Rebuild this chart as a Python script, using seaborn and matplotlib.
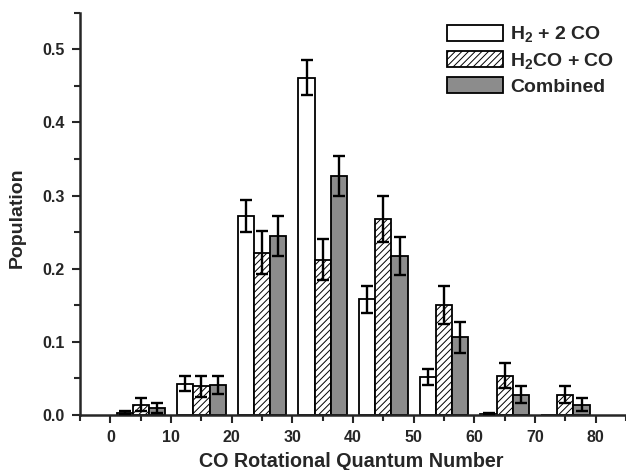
import numpy as np
import pandas as pd
import matplotlib
matplotlib.use("Agg")
import matplotlib.pyplot as plt
import matplotlib.patches as mpatches
from matplotlib.ticker import MultipleLocator
import seaborn as sns

# ---- data ----
j_centers = [5, 15, 25, 35, 45, 55, 65, 75]
series_names = ["H$_2$ + 2 CO", "H$_2$CO + CO", "Combined"]
h2_2co = [0.003, 0.043, 0.272, 0.461, 0.158, 0.052, 0.002, 0.0]
h2_2co_err = [0.002, 0.010, 0.022, 0.024, 0.018, 0.011, 0.001, 0.0]
h2co_co = [0.014, 0.039, 0.222, 0.212, 0.268, 0.151, 0.054, 0.028]
h2co_co_err = [0.009, 0.014, 0.029, 0.028, 0.031, 0.026, 0.017, 0.012]
combined = [0.010, 0.041, 0.245, 0.327, 0.217, 0.106, 0.028, 0.014]
combined_err = [0.007, 0.012, 0.027, 0.027, 0.026, 0.021, 0.012, 0.009]
x_ticks = [0, 10, 20, 30, 40, 50, 60, 70, 80]
y_ticks = [0.0, 0.1, 0.2, 0.3, 0.4, 0.5]

values = [h2_2co, h2co_co, combined]
errors = [h2_2co_err, h2co_co_err, combined_err]

rows = []
for name, vals in zip(series_names, values):
    for j, v in zip(j_centers, vals):
        rows.append({"J": j, "pop": v, "series": name})
df = pd.DataFrame(rows)

sns.set_style("ticks")
plt.rcParams["font.family"] = ["Liberation Sans", "DejaVu Sans"]
plt.rcParams["font.weight"] = "bold"
plt.rcParams["hatch.linewidth"] = 0.7
plt.rcParams["mathtext.default"] = "regular"

fig = plt.figure(figsize=(6.26, 4.70), dpi=100)
ax = fig.add_axes([0.128, 0.117, 0.872, 0.856])

colors = ["white", "white", "#8c8c8c"]
sns.barplot(data=df, x="J", y="pop", hue="series", hue_order=series_names,
            native_scale=True, palette=colors, edgecolor="black", linewidth=1.3,
            errorbar=None, legend=False, width=0.8, gap=0, ax=ax)

bar_containers = list(ax.containers)
for i, cont in enumerate(bar_containers):
    for k, p in enumerate(cont.patches):
        if i == 1:
            p.set_hatch("/////")
        err = errors[i][k]
        if err > 0:
            xc = p.get_x() + p.get_width() / 2
            ax.errorbar([xc], [p.get_height()], yerr=[err], fmt="none",
                        ecolor="black", elinewidth=1.7, capsize=4.3, capthick=1.7,
                        zorder=5)

ax.set_xlim(-5, 85)
ax.set_ylim(0, 0.55)
ax.set_xticks(x_ticks)
ax.set_yticks(y_ticks)
ax.set_yticklabels([f"{t:.1f}" for t in y_ticks])
ax.xaxis.set_minor_locator(MultipleLocator(5))
ax.yaxis.set_minor_locator(MultipleLocator(0.05))
ax.tick_params(axis="both", which="major", direction="out", length=6, width=1.5,
               labelsize=11.5, pad=5)
ax.tick_params(axis="both", which="minor", direction="out", length=4, width=1.5)
for lab in ax.get_xticklabels() + ax.get_yticklabels():
    lab.set_fontweight("bold")

for s in ["top", "right"]:
    ax.spines[s].set_visible(False)
for s in ["left", "bottom"]:
    ax.spines[s].set_linewidth(1.8)

ax.set_xlabel("CO Rotational Quantum Number", fontsize=14.2, fontweight="bold")
ax.set_ylabel("Population", fontsize=14, fontweight="bold")
ax.xaxis.set_label_coords((351 - 80) / 546, -0.092)
ax.yaxis.set_label_coords(-0.099, 0.49)

handles = [
    mpatches.Patch(facecolor="white", edgecolor="black", linewidth=1.3),
    mpatches.Patch(facecolor="white", edgecolor="black", linewidth=1.3, hatch="/////"),
    mpatches.Patch(facecolor="#8c8c8c", edgecolor="black", linewidth=1.3),
]
leg = ax.legend(handles, series_names, loc="upper right", bbox_to_anchor=(1.0, 1.0),
                frameon=False, handlelength=2.9, handleheight=0.9,
                labelspacing=0.32, handletextpad=0.35, borderaxespad=0.2,
                prop={"weight": "bold", "size": 14})

fig.savefig("out.png", dpi=100)
